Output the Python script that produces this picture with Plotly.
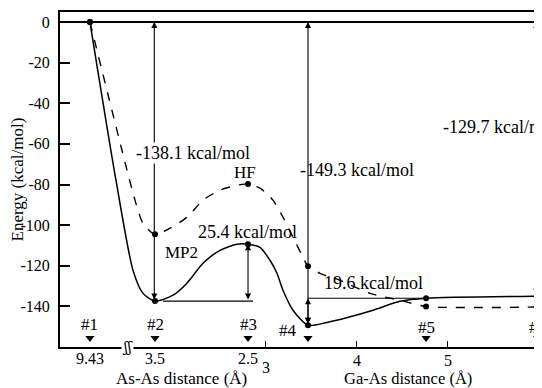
import plotly.graph_objects as go

# ---- data ----
pos_names = ["#1", "#2", "#3", "#4", "#5", "#6"]
pos_x = [1.071, 1.786, 2.808, 3.467, 4.764, 5.99]          # plot position (Ga-As Å scale)
mp2_pts = [0, -137.4, -109.4, -149.3, -136.0, -135.0]
hf_pts = [0, -104.5, -79.8, -120.3, -140.0, -140.3]

mp2_curve_x = [1.071, 1.357, 1.544, 1.654, 1.786, 1.984, 2.137, 2.313, 2.500, 2.687, 2.808,
               2.940, 3.049, 3.126, 3.192, 3.302, 3.467, 3.676, 3.900, 4.181, 4.478, 4.764, 5.99]
mp2_curve_y = [0, -77.9, -122.2, -133.6, -137.4, -134.5, -128.6, -118.8, -112.4, -109.4, -109.4,
               -110.9, -117.3, -123.7, -132.1, -141.9, -149.3, -147.9, -145.5, -141.9, -137.5, -136.0, -135.0]

hf_curve_x = [1.071, 1.478, 1.566, 1.654, 1.786, 1.951, 2.137, 2.313, 2.500, 2.775, 2.940, 3.082,
              3.192, 3.302, 3.412, 3.467, 3.599, 3.819, 4.148, 4.478, 4.764, 5.99]
hf_curve_y = [0, -72.9, -87.7, -99.1, -104.5, -101.5, -96.1, -87.7, -82.8, -79.8, -81.8, -87.7,
              -96.1, -106.0, -115.8, -120.3, -123.7, -127.2, -133.6, -137.0, -140.0, -140.3]

# reference levels for barriers: (level, x_start, x_end)
ref_levels = [(-137.4, 1.874, 2.863), (-136.0, 3.467, 4.764)]

# vertical double arrows: (x, y_top, y_bottom)
arrows = [(1.778, 0, -137.4), (2.808, -109.4, -137.4), (3.467, 0, -149.3),
          (3.467, -136.0, -149.3), (5.975, 0, -135.0)]

energy_labels = ["-138.1 kcal/mol", "25.4 kcal/mol", "-149.3 kcal/mol", "19.6 kcal/mol", "-129.7 kcal/mol"]
energy_label_x = [1.566, 2.802, 3.368, 3.632, 4.940]
energy_label_y = [-64.6, -103.4, -73.0, -128.7, -51.8]
energy_label_anchor = ["left", "center", "left", "left", "left"]

curve_names = ["HF", "MP2"]
curve_name_x = [2.775, 2.082]
curve_name_y = [-74.3, -113.4]

pos_label_x = [1.071, 1.786, 2.808, 3.247, 4.764, 5.99]
pos_label_y = [-148.9, -148.9, -148.9, -151.8, -150.4, -150.4]

asas_ticks = ["9.43", "3.5", "2.5"]
asas_tick_x = [1.071, 1.786, 2.808]
gaas_ticks = ["3", "4", "5", "6"]
gaas_tick_x = [3.0, 4.0, 5.0, 6.0]

y_ticks = [0, -20, -40, -60, -80, -100, -120, -140]

FONT = "Liberation Serif"
BLACK = "black"

fig = go.Figure()

fig.add_trace(go.Scatter(x=hf_curve_x, y=hf_curve_y, mode="lines",
                         line=dict(color=BLACK, width=1.4, dash="dash", shape="spline", smoothing=0.7),
                         showlegend=False, hoverinfo="skip"))
fig.add_trace(go.Scatter(x=mp2_curve_x, y=mp2_curve_y, mode="lines",
                         line=dict(color=BLACK, width=1.5, shape="spline", smoothing=0.7),
                         showlegend=False, hoverinfo="skip"))

for lvl, x0, x1 in ref_levels:
    fig.add_trace(go.Scatter(x=[x0, x1], y=[lvl, lvl], mode="lines",
                             line=dict(color=BLACK, width=1.2), showlegend=False, hoverinfo="skip"))

# zero energy line
fig.add_trace(go.Scatter(x=[0.742, 6.2], y=[0, 0], mode="lines",
                         line=dict(color=BLACK, width=2), showlegend=False, hoverinfo="skip"))

fig.add_trace(go.Scatter(x=pos_x, y=mp2_pts, mode="markers", cliponaxis=False,
                         marker=dict(color=BLACK, size=6), showlegend=False))
fig.add_trace(go.Scatter(x=pos_x, y=hf_pts, mode="markers", cliponaxis=False,
                         marker=dict(color=BLACK, size=6), showlegend=False))

# position triangles on the axis
fig.add_trace(go.Scatter(x=pos_x, y=[-155.6] * len(pos_x), mode="markers", cliponaxis=False,
                         marker=dict(color=BLACK, symbol="triangle-down", size=8), showlegend=False))

ann = []
for x, yt, yb in arrows:
    ann.append(dict(x=x, y=yt, ax=x, ay=yb, xref="x", yref="y", axref="x", ayref="y",
                    text="", showarrow=True, arrowhead=2, arrowsize=1.1, arrowwidth=1.1,
                    arrowside="end+start", arrowcolor=BLACK, standoff=0, startstandoff=0))

for i, t in enumerate(energy_labels):
    ann.append(dict(x=energy_label_x[i], y=energy_label_y[i], text=t, showarrow=False,
                    xanchor=energy_label_anchor[i], yanchor="middle",
                    bgcolor="white" if i == 0 else "rgba(0,0,0,0)", borderpad=0,
                    font=dict(family=FONT, size=18, color=BLACK)))

for i, t in enumerate(curve_names):
    ann.append(dict(x=curve_name_x[i], y=curve_name_y[i], text=t, showarrow=False,
                    font=dict(family=FONT, size=17, color=BLACK)))

for i, t in enumerate(pos_names):
    ann.append(dict(x=pos_label_x[i], y=pos_label_y[i], text=t, showarrow=False,
                    font=dict(family=FONT, size=17, color=BLACK)))

# bottom labels (paper y; plot bottom = 0)
for i, t in enumerate(asas_ticks):
    ann.append(dict(x=asas_tick_x[i], y=-0.034, xref="x", yref="paper", yanchor="middle",
                    text=t, showarrow=False, font=dict(family=FONT, size=16, color=BLACK)))
for i, t in enumerate(gaas_ticks):
    ann.append(dict(x=gaas_tick_x[i], y=-0.062 if t == "3" else -0.040, xref="x", yref="paper",
                    yanchor="middle", text=t, showarrow=False, borderpad=0,
                    font=dict(family=FONT, size=16, color=BLACK)))

ann.append(dict(x=2.08, y=-0.094, xref="x", yref="paper", yanchor="middle",
                text="As-As distance (Å)", showarrow=False,
                font=dict(family=FONT, size=17, color=BLACK)))
ann.append(dict(x=4.57, y=-0.094, xref="x", yref="paper", yanchor="middle",
                text="Ga-As distance (Å)", showarrow=False, borderpad=0,
                font=dict(family=FONT, size=16.5, color=BLACK)))
# axis break symbol
ann.append(dict(x=1.484, y=0, xref="x", yref="paper", yanchor="middle",
                text="ʃʃ", showarrow=False, bgcolor="white", borderpad=0,
                font=dict(family="DejaVu Serif", size=14, color=BLACK)))

fig.update_layout(
    width=534, height=380,
    margin=dict(l=52, r=0, t=4, b=41, autoexpand=False),
    plot_bgcolor="white", paper_bgcolor="white",
    annotations=ann,
    showlegend=False,
)
fig.update_xaxes(range=[0.742, 6.038], showgrid=False, zeroline=False, automargin=False,
                 showline=True, linecolor=BLACK, linewidth=2, mirror=True,
                 tickvals=gaas_tick_x[:3], ticks="inside", ticklen=6, tickcolor=BLACK,
                 showticklabels=False)
fig.update_yaxes(range=[-160, 4.93], showgrid=False, zeroline=False, automargin=False,
                 showline=True, linecolor=BLACK, linewidth=2,
                 tickvals=y_ticks, ticktext=[str(v) for v in y_ticks],
                 ticks="inside", ticklen=10, tickcolor=BLACK, tickwidth=1.5,
                 ticklabelstandoff=5,
                 tickfont=dict(family=FONT, size=16, color=BLACK),
                 title=dict(text="Energy (kcal/mol)", standoff=4,
                            font=dict(family=FONT, size=17, color=BLACK)))

fig.write_html("out.html")
